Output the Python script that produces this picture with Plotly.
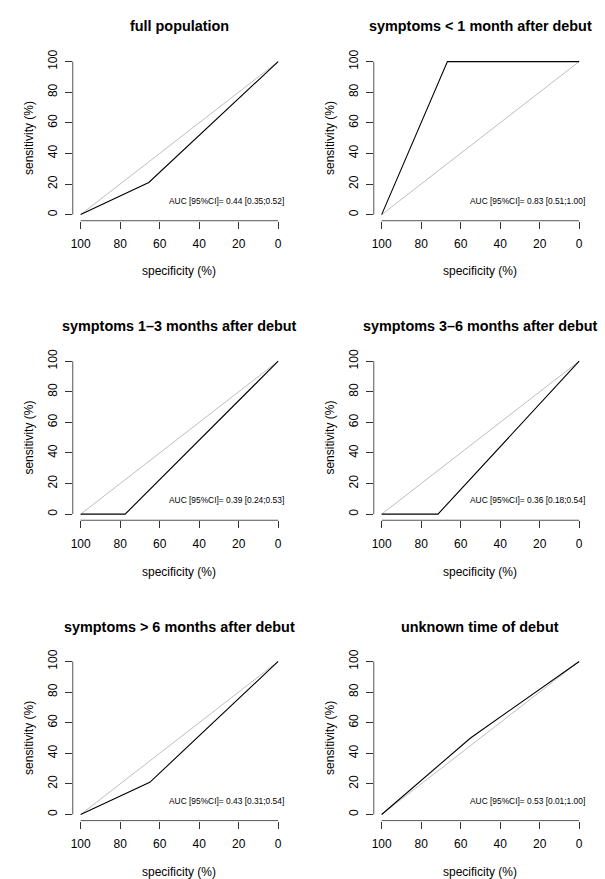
import plotly.graph_objects as go

# ---- data ----
titles = ["full population",
          "symptoms &lt; 1 month after debut",
          "symptoms 1–3 months after debut",
          "symptoms 3–6 months after debut",
          "symptoms &gt; 6 months after debut",
          "unknown time of debut"]
spec_full = [100, 65.5, 0]
sens_full = [0, 21, 100]
spec_lt1 = [100, 66.7, 0]
sens_lt1 = [0, 100, 100]
spec_1_3 = [100, 77.5, 0]
sens_1_3 = [0, 0, 100]
spec_3_6 = [100, 71.5, 0]
sens_3_6 = [0, 0, 100]
spec_gt6 = [100, 65, 0]
sens_gt6 = [0, 21, 100]
spec_unk = [100, 55, 0]
sens_unk = [0, 50, 100]
auc_labels = ["AUC [95%CI]= 0.44 [0.35;0.52]",
              "AUC [95%CI]= 0.83 [0.51;1.00]",
              "AUC [95%CI]= 0.39 [0.24;0.53]",
              "AUC [95%CI]= 0.36 [0.18;0.54]",
              "AUC [95%CI]= 0.43 [0.31;0.54]",
              "AUC [95%CI]= 0.53 [0.01;1.00]"]
diag_x = [100, 0]
diag_y = [0, 100]
tick_vals = [0, 20, 40, 60, 80, 100]

series = [(spec_full, sens_full), (spec_lt1, sens_lt1), (spec_1_3, sens_1_3),
          (spec_3_6, sens_3_6), (spec_gt6, sens_gt6), (spec_unk, sens_unk)]

W, H = 605, 879
FONT = "Liberation Sans, Arial, Helvetica, sans-serif"

# pixel layout in window coordinates (plot-region left/right, top/bottom)
col_px = [(71, 285), (373, 587)]
row_px = [(49.8, 216.2), (351.5, 517.8), (653.8, 820.2)]
title_y_px = [20, 322, 625]
xlab_y_px = [267, 570, 872]


def px_x(p):
    return p / W


def px_y(p):
    return 1 - p / H


fig = go.Figure()
layout = dict(width=W, height=H, margin=dict(l=0, r=0, t=0, b=0),
              paper_bgcolor="white", plot_bgcolor="white", showlegend=False,
              font=dict(family=FONT, color="black", size=12))
annotations = []
shapes = []

for i, (sx, sy) in enumerate(series):
    r, c = divmod(i, 2)
    n = "" if i == 0 else str(i + 1)
    xa, ya = "x" + n, "y" + n
    xl, xr = col_px[c]
    yt, yb = row_px[r]
    xdom = [px_x(xl), px_x(xr)]
    ydom = [px_y(yb), px_y(yt)]

    fig.add_trace(go.Scatter(x=diag_x, y=diag_y, mode="lines", xaxis=xa, yaxis=ya,
                             line=dict(color="#BEBEBE", width=1), hoverinfo="skip"))
    fig.add_trace(go.Scatter(x=sx, y=sy, mode="lines", xaxis=xa, yaxis=ya,
                             line=dict(color="black", width=1.1)))

    layout["xaxis" + n] = dict(domain=xdom, range=[104, -4], anchor=ya,
                               tickvals=tick_vals, ticks="outside", ticklen=7,
                               tickcolor="#333", tickwidth=1, showline=False,
                               showgrid=False, zeroline=False,
                               ticklabelstandoff=5,
                               tickfont=dict(size=12, family=FONT, color="black"))
    layout["yaxis" + n] = dict(domain=ydom, range=[-4, 104], anchor=xa,
                               tickvals=tick_vals, ticks="outside", ticklen=7,
                               tickcolor="#333", tickwidth=1, showline=False,
                               showgrid=False, zeroline=False, tickangle=-90,
                               ticklabelstandoff=3,
                               tickfont=dict(size=12, family=FONT, color="black"))

    # R-style detached axis lines spanning the tick range
    shapes.append(dict(type="line", xref=xa, yref=ya + " domain", x0=0, x1=100,
                       y0=0, y1=0, line=dict(color="#555", width=1)))
    shapes.append(dict(type="line", xref=xa + " domain", yref=ya, x0=0, x1=0,
                       y0=0, y1=100, line=dict(color="#555", width=1)))

    cxp = (xl + xr) / 2
    annotations.append(dict(text="<b>" + titles[i] + "</b>", xref="paper", yref="paper",
                            x=px_x(cxp), y=px_y(title_y_px[r]), xanchor="center",
                            yanchor="middle", showarrow=False,
                            font=dict(size=14.4, family=FONT, color="black")))
    annotations.append(dict(text="specificity (%)", xref="paper", yref="paper",
                            x=px_x(cxp), y=px_y(xlab_y_px[r]), xanchor="center",
                            yanchor="middle", showarrow=False,
                            font=dict(size=12, family=FONT, color="black")))
    annotations.append(dict(text="sensitivity (%)", xref="paper", yref="paper",
                            x=px_x(xl - 44), y=px_y((yt + yb) / 2),
                            xanchor="center", yanchor="middle", textangle=-90,
                            showarrow=False,
                            font=dict(size=12, family=FONT, color="black")))
    annotations.append(dict(text=auc_labels[i], xref=xa, yref=ya, x=-4, y=9,
                            xanchor="right", yanchor="middle", showarrow=False,
                            font=dict(size=8.4, family=FONT, color="black")))

layout["annotations"] = annotations
layout["shapes"] = shapes
fig.update_layout(**layout)
fig.write_html("out.html",
               config={"displayModeBar": False},
               post_script="document.body.style.margin='0';"
                           "document.body.style.overflow='hidden';")
